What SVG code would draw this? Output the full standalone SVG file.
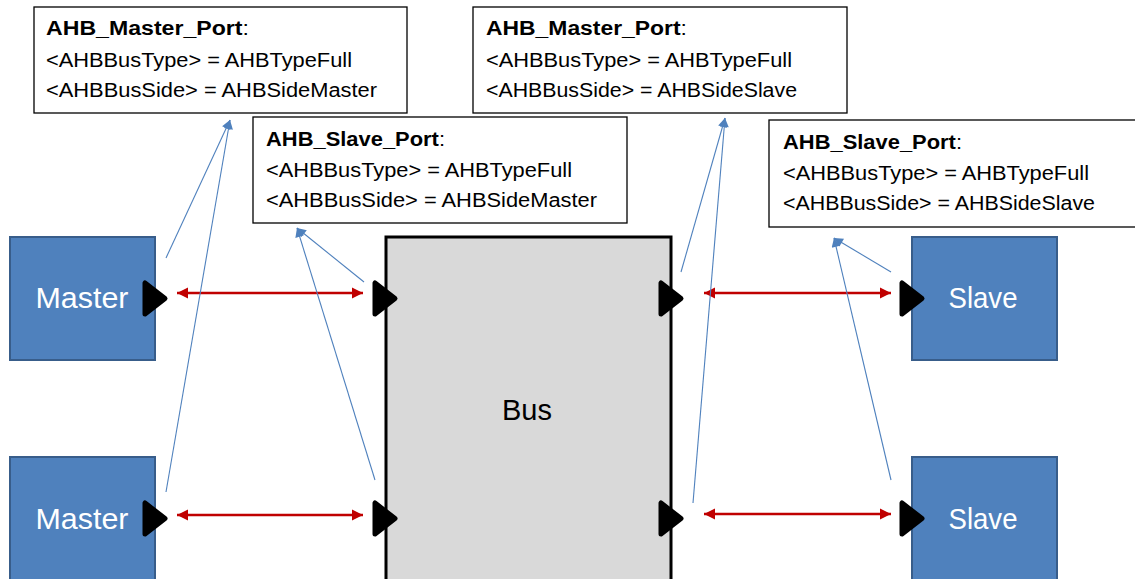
<svg xmlns="http://www.w3.org/2000/svg" width="1135" height="579" viewBox="0 0 1135 579">
<style>
.lbl{fill:#fff;stroke:#000;stroke-width:1.3}
.t{font-family:"Liberation Sans",Arial,sans-serif;font-size:19.5px;fill:#000}
.b{font-weight:bold}
.blk{fill:#4F81BD;stroke:#385D8A;stroke-width:2}
.bt{font-family:"Liberation Sans",Arial,sans-serif;font-size:29px;fill:#fff;text-anchor:middle}
.port{fill:#000;stroke:#000;stroke-width:5;stroke-linejoin:round}
.red{stroke:#C00000;stroke-width:2.5;fill:none;marker-start:url(#rs);marker-end:url(#re)}
.blue{stroke:#4F81BD;stroke-width:1.1;fill:none;marker-end:url(#ba)}
</style>
<defs>
<marker id="re" viewBox="0 0 10 10" refX="10" refY="5" markerWidth="4.5" markerHeight="4.5" orient="auto" markerUnits="strokeWidth"><path d="M0,0 L10,5 L0,10 z" fill="#C00000"/></marker>
<marker id="rs" viewBox="0 0 10 10" refX="0" refY="5" markerWidth="4.5" markerHeight="4.5" orient="auto" markerUnits="strokeWidth"><path d="M10,0 L0,5 L10,10 z" fill="#C00000"/></marker>
<marker id="ba" viewBox="0 0 10 10" refX="10" refY="5" markerWidth="10" markerHeight="9" orient="auto" markerUnits="userSpaceOnUse"><path d="M0,0 L10,5 L0,10 z" fill="#4F81BD"/></marker>
</defs>
<rect width="1135" height="579" fill="#fff"/>

<g id="bus">
<rect x="386" y="237" width="285" height="350" fill="#D9D9D9" stroke="#000" stroke-width="3"/>
<text x="527" y="420" text-anchor="middle" font-family="Liberation Sans,Arial,sans-serif" font-size="29px" fill="#000">Bus</text>
<polygon class="port" points="375,283 375,314 395,298.5"/>
<polygon class="port" points="375,503 375,534 395,518.5"/>
<polygon class="port" points="661,283 661,314 681,298.5"/>
<polygon class="port" points="661,503 661,534 681,518.5"/>
</g>

<g id="master1">
<rect class="blk" x="10" y="237" width="145" height="123"/>
<text class="bt" x="82" y="308" textLength="93" lengthAdjust="spacingAndGlyphs">Master</text>
<polygon class="port" points="145,283 145,314 165,298.5"/>
</g>
<g id="master2">
<rect class="blk" x="10" y="457" width="145" height="130"/>
<text class="bt" x="82" y="529" textLength="93" lengthAdjust="spacingAndGlyphs">Master</text>
<polygon class="port" points="145,503 145,534 165,518.5"/>
</g>
<g id="slave1">
<rect class="blk" x="912" y="237" width="145" height="123"/>
<text class="bt" x="983" y="308" textLength="69" lengthAdjust="spacingAndGlyphs">Slave</text>
<polygon class="port" points="902,283 902,314 922,298.5"/>
</g>
<g id="slave2">
<rect class="blk" x="912" y="457" width="145" height="130"/>
<text class="bt" x="983" y="529" textLength="69" lengthAdjust="spacingAndGlyphs">Slave</text>
<polygon class="port" points="902,503 902,534 922,518.5"/>
</g>

<g id="label-master-left">
<rect class="lbl" x="34" y="7" width="373" height="106"/>
<text class="t" x="46" y="35" textLength="203" lengthAdjust="spacingAndGlyphs"><tspan class="b">AHB_Master_Port</tspan>:</text>
<text class="t" x="46" y="67" textLength="306" lengthAdjust="spacingAndGlyphs">&lt;AHBBusType&gt; = AHBTypeFull</text>
<text class="t" x="46" y="97" textLength="331" lengthAdjust="spacingAndGlyphs">&lt;AHBBusSide&gt; = AHBSideMaster</text>
</g>
<g id="label-slave-left">
<rect class="lbl" x="253" y="117" width="374" height="106"/>
<text class="t" x="266" y="146" textLength="179" lengthAdjust="spacingAndGlyphs"><tspan class="b">AHB_Slave_Port</tspan>:</text>
<text class="t" x="266" y="177" textLength="306" lengthAdjust="spacingAndGlyphs">&lt;AHBBusType&gt; = AHBTypeFull</text>
<text class="t" x="266" y="207" textLength="331" lengthAdjust="spacingAndGlyphs">&lt;AHBBusSide&gt; = AHBSideMaster</text>
</g>
<g id="label-master-right">
<rect class="lbl" x="473" y="7" width="374" height="106"/>
<text class="t" x="486" y="35" textLength="201" lengthAdjust="spacingAndGlyphs"><tspan class="b">AHB_Master_Port</tspan>:</text>
<text class="t" x="486" y="67" textLength="306" lengthAdjust="spacingAndGlyphs">&lt;AHBBusType&gt; = AHBTypeFull</text>
<text class="t" x="486" y="97" textLength="311" lengthAdjust="spacingAndGlyphs">&lt;AHBBusSide&gt; = AHBSideSlave</text>
</g>
<g id="label-slave-right">
<rect class="lbl" x="769" y="120" width="380" height="107"/>
<text class="t" x="783" y="149" textLength="179" lengthAdjust="spacingAndGlyphs"><tspan class="b">AHB_Slave_Port</tspan>:</text>
<text class="t" x="783" y="180" textLength="306" lengthAdjust="spacingAndGlyphs">&lt;AHBBusType&gt; = AHBTypeFull</text>
<text class="t" x="783" y="210" textLength="312" lengthAdjust="spacingAndGlyphs">&lt;AHBBusSide&gt; = AHBSideSlave</text>
</g>

<g id="connectors">
<line class="red" x1="177" y1="293" x2="363" y2="293"/>
<line class="red" x1="177" y1="515" x2="363" y2="515"/>
<line class="red" x1="704" y1="293" x2="891" y2="293"/>
<line class="red" x1="704" y1="514" x2="891" y2="514"/>
<line class="blue" x1="166" y1="258" x2="230" y2="120"/>
<line class="blue" x1="166" y1="492" x2="230" y2="120"/>
<line class="blue" x1="364" y1="282" x2="297" y2="228"/>
<line class="blue" x1="375" y1="480" x2="297" y2="228"/>
<line class="blue" x1="681" y1="272" x2="725" y2="118"/>
<line class="blue" x1="693" y1="503" x2="725" y2="118"/>
<line class="blue" x1="891" y1="272" x2="834" y2="238"/>
<line class="blue" x1="891" y1="480" x2="834" y2="238"/>
</g>
</svg>
